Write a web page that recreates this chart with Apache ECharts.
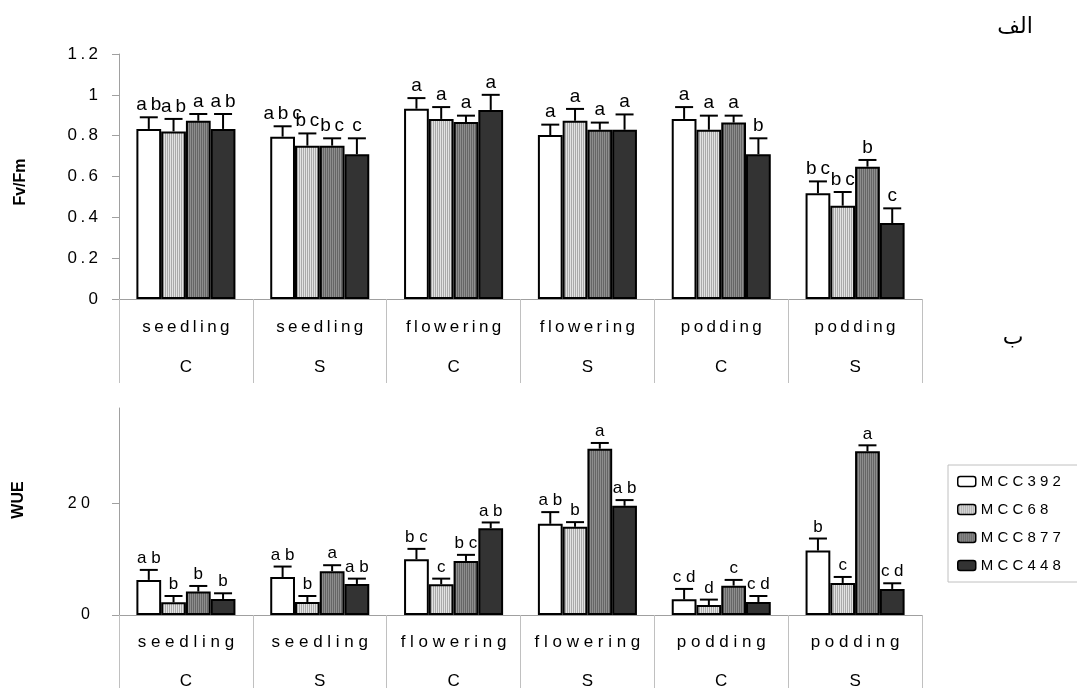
<!DOCTYPE html>
<html>
<head>
<meta charset="utf-8">
<script src="https://cdn.jsdelivr.net/npm/echarts@6/dist/echarts.min.js"></script>
<style>
html,body{margin:0;padding:0;background:#fff;}
#chart{width:1077px;height:688px;}
</style>
</head>
<body>
<div id="chart"></div>
<script>
// ---- data ----
const stages = ['seedling', 'seedling', 'flowering', 'flowering', 'podding', 'podding'];
const treatments = ['C', 'S', 'C', 'S', 'C', 'S'];
const strains = ['MCC392', 'MCC68', 'MCC877', 'MCC448'];

// Fv/Fm means and error (upper error bar length)
const fvfm392 = [0.833, 0.795, 0.932, 0.803, 0.882, 0.518];
const fvfm68  = [0.821, 0.751, 0.882, 0.873, 0.829, 0.457];
const fvfm877 = [0.873, 0.751, 0.867, 0.829, 0.864, 0.648];
const fvfm448 = [0.833, 0.709, 0.926, 0.829, 0.709, 0.372];
const fvfmErr392 = [0.057, 0.051, 0.052, 0.051, 0.058, 0.058];
const fvfmErr68  = [0.061, 0.060, 0.058, 0.058, 0.069, 0.067];
const fvfmErr877 = [0.033, 0.036, 0.031, 0.035, 0.034, 0.033];
const fvfmErr448 = [0.073, 0.078, 0.074, 0.075, 0.078, 0.072];
const fvfmLet392 = ['ab', 'abc', 'a', 'a', 'a', 'bc'];
const fvfmLet68  = ['ab', 'bc', 'a', 'a', 'a', 'bc'];
const fvfmLet877 = ['a', 'bc', 'a', 'a', 'a', 'b'];
const fvfmLet448 = ['ab', 'c', 'a', 'a', 'b', 'c'];

// WUE means and error
const wue392 = [6.27, 6.80, 9.97, 16.30, 2.80, 11.52];
const wue68  = [2.27, 2.33, 5.49, 15.76, 1.79, 5.73];
const wue877 = [4.18, 7.82, 9.67, 29.73, 5.25, 29.25];
const wue448 = [2.87, 5.55, 15.52, 19.52, 2.33, 4.66];
const wueErr392 = [1.79, 1.86, 1.85, 2.09, 1.86, 2.15];
const wueErr68  = [1.13, 1.07, 1.01, 0.84, 0.96, 1.07];
const wueErr877 = [1.01, 1.08, 1.08, 1.02, 1.02, 1.08];
const wueErr448 = [1.01, 0.95, 1.02, 1.02, 1.07, 1.01];
const wueLet392 = ['ab', 'ab', 'bc', 'ab', 'cd', 'b'];
const wueLet68  = ['b', 'b', 'c', 'b', 'd', 'c'];
const wueLet877 = ['b', 'a', 'bc', 'a', 'c', 'a'];
const wueLet448 = ['b', 'ab', 'ab', 'ab', 'cd', 'cd'];

const fvfmTicks = [0, 0.2, 0.4, 0.6, 0.8, 1, 1.2];
const wueTicks = [0, 20];

// ---- styling ----
const FONT = '"Liberation Sans", Arial, sans-serif';
const THIN = '\u2009';
const spaced = (s, sep) => String(s).split('').join(sep === undefined ? ' ' : sep);

function stripePattern(cols) {
  const c = document.createElement('canvas');
  c.width = cols.length; c.height = 4;
  const ctx = c.getContext('2d');
  cols.forEach((col, i) => { ctx.fillStyle = col; ctx.fillRect(i, 0, 1, 4); });
  return { image: c, repeat: 'repeat' };
}
const fills = [
  '#ffffff',
  stripePattern(['#e2e2e2', '#a9a9a9']),
  stripePattern(['#8e8e8e', '#666666']),
  '#333333'
];

const chart = echarts.init(document.getElementById('chart'), null, { renderer: 'canvas' });

const groups = [
  { means: [fvfm392, fvfm68, fvfm877, fvfm448], errs: [fvfmErr392, fvfmErr68, fvfmErr877, fvfmErr448],
    lets: [fvfmLet392, fvfmLet68, fvfmLet877, fvfmLet448], letFont: 19, sep: THIN },
  { means: [wue392, wue68, wue877, wue448], errs: [wueErr392, wueErr68, wueErr877, wueErr448],
    lets: [wueLet392, wueLet68, wueLet877, wueLet448], letFont: 17, sep: ' ' }
];

const GAP = 0.26;
const series = [];
groups.forEach((g, gi) => {
  for (let s = 0; s < 4; s++) {
    series.push({
      name: strains[s], type: 'bar', xAxisIndex: gi, yAxisIndex: gi,
      data: g.means[s], barGap: '0%', barCategoryGap: (GAP * 100) + '%',
      itemStyle: { color: fills[s], borderColor: '#000', borderWidth: 2 },
      emphasis: { disabled: true }, silent: true, z: 2
    });
  }
  for (let s = 0; s < 4; s++) {
    const lets = g.lets[s];
    series.push({
      type: 'custom', xAxisIndex: gi, yAxisIndex: gi, silent: true, z: 3,
      encode: { x: 0, y: 1 },
      data: g.means[s].map((m, i) => [i, m, g.errs[s][i]]),
      renderItem: function (params, api) {
        const idx = api.value(0), m = api.value(1), e = api.value(2);
        const band = api.size([1, 0])[0];
        const bw = band * (1 - GAP) / 4;
        const base = api.coord([idx, m]);
        const cx = base[0] + (s - 1.5) * bw;
        const yTop = api.coord([idx, m + e])[1];
        return {
          type: 'group',
          children: [
            { type: 'line', shape: { x1: cx, y1: base[1], x2: cx, y2: yTop }, style: { stroke: '#000', lineWidth: 2 } },
            { type: 'line', shape: { x1: cx - 9, y1: yTop, x2: cx + 9, y2: yTop }, style: { stroke: '#000', lineWidth: 2 } },
            { type: 'text', x: cx, y: yTop - 3,
              style: { text: spaced(lets[idx], g.sep), fill: '#000', fontSize: g.letFont, fontFamily: FONT,
                       align: 'center', verticalAlign: 'bottom', textAlign: 'center', textVerticalAlign: 'bottom' } }
          ]
        };
      }
    });
  }
});

const catLabel = (lh, fs, sep) => ({
  interval: 0, color: '#000', fontSize: fs, fontFamily: FONT, lineHeight: lh, margin: 8,
  formatter: (v, i) => spaced(stages[i], sep) + '\n' + treatments[i]
});

const option = {
  animation: false,
  backgroundColor: '#fff',
  grid: [
    { left: 119, top: 54, width: 803, height: 245, outerBoundsMode: 'none', containLabel: false },
    { left: 119, top: 408, width: 803, height: 207, outerBoundsMode: 'none', containLabel: false }
  ],
  legend: {
    data: strains, orient: 'vertical', left: 948, top: 465,
    itemWidth: 18, itemHeight: 10, itemGap: 13,
    padding: [9, 30, 9, 9], borderColor: '#c0c0c0', borderWidth: 1,
    itemStyle: { borderWidth: 1.5, borderColor: '#000' },
    textStyle: { fontSize: 15, fontFamily: FONT, color: '#000' },
    formatter: n => spaced(n, ' '), selectedMode: false
  },
  xAxis: [
    { type: 'category', gridIndex: 0, data: stages.map((s, i) => s + ' ' + treatments[i]),
      axisLine: { lineStyle: { color: '#a0a0a0', width: 1 } },
      axisTick: { show: true, interval: 0, length: 84, lineStyle: { color: '#c0c0c0' } },
      axisLabel: catLabel(40, 17, THIN) },
    { type: 'category', gridIndex: 1, data: stages.map((s, i) => s + ' ' + treatments[i]),
      axisLine: { lineStyle: { color: '#a0a0a0', width: 1 } },
      axisTick: { show: true, interval: 0, length: 80, lineStyle: { color: '#c0c0c0' } },
      axisLabel: catLabel(39, 17, ' ') }
  ],
  yAxis: [
    { type: 'value', gridIndex: 0, min: 0, max: 1.2, interval: 0.2,
      axisLine: { show: true, lineStyle: { color: '#a0a0a0' } },
      axisTick: { show: true, length: 7, lineStyle: { color: '#a0a0a0' }, customValues: fvfmTicks },
      splitLine: { show: false },
      axisLabel: { color: '#000', fontSize: 17, fontFamily: FONT, margin: 21, customValues: fvfmTicks,
                   formatter: v => spaced(String(+(+v).toFixed(1)), THIN) } },
    { type: 'value', gridIndex: 1, min: 0, max: 37, interval: 20,
      axisLine: { show: true, lineStyle: { color: '#a0a0a0' } },
      axisTick: { show: true, length: 7, lineStyle: { color: '#a0a0a0' }, customValues: wueTicks },
      splitLine: { show: false },
      axisLabel: { color: '#000', fontSize: 16, fontFamily: FONT, margin: 29, customValues: wueTicks,
                   formatter: v => spaced(String(v), ' ') } }
  ],
  graphic: [
    { type: 'text', x: 21, y: 182, rotation: Math.PI / 2,
      style: { text: 'Fv/Fm', fill: '#000', fontSize: 16, fontWeight: 'bold', fontFamily: FONT,
               align: 'center', verticalAlign: 'middle' } },
    { type: 'text', x: 19, y: 500, rotation: Math.PI / 2,
      style: { text: 'WUE', fill: '#000', fontSize: 16, fontWeight: 'bold', fontFamily: FONT,
               align: 'center', verticalAlign: 'middle' } },
    { type: 'text', x: 1015, y: 27,
      style: { text: 'الف', fill: '#000', fontSize: 22, fontFamily: '"DejaVu Sans", sans-serif',
               align: 'center', verticalAlign: 'middle' } },
    { type: 'text', x: 1013, y: 338,
      style: { text: 'ب', fill: '#000', fontSize: 22, fontFamily: '"DejaVu Sans", sans-serif',
               align: 'center', verticalAlign: 'middle' } }
  ],
  series: series
};
chart.setOption(option);
</script>
</body>
</html>
